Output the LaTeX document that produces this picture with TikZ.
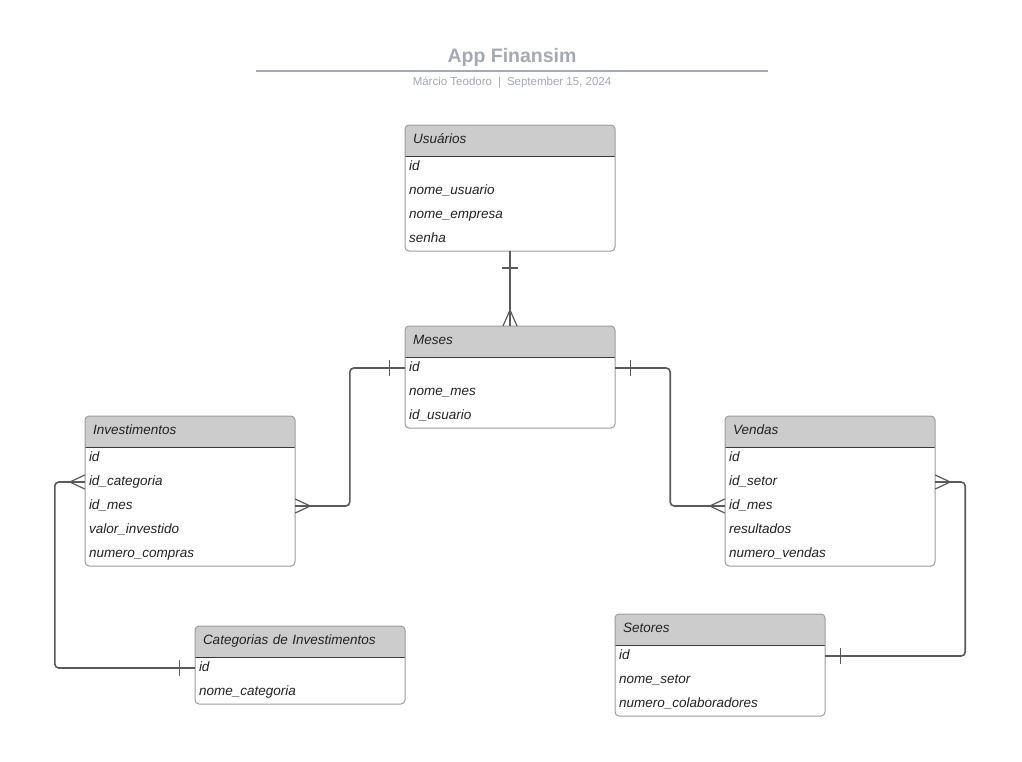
\documentclass[tikz,border=0pt]{standalone}
\usepackage{fontspec}
\setmainfont{Liberation Sans}
\usetikzlibrary{calc}
\definecolor{titlegray}{HTML}{A4A9B4}
\definecolor{linegray}{HTML}{5A5A5A}
\definecolor{bordergray}{HTML}{9C9C9C}
\definecolor{headgray}{HTML}{CCCCCC}
\definecolor{sepgray}{HTML}{3A3A3A}
\definecolor{textdark}{HTML}{222222}
\newcommand\ertab[6]{% name, x, y, title, nrows, rows
  \pgfmathsetmacro\erh{30+24*#5}
  \begin{scope}
    \path[clip, rounded corners=4pt] (#2,#3) rectangle ++(210,\erh);
    \fill[headgray] (#2,#3) rectangle ++(210,31);
  \end{scope}
  \draw[sepgray, line width=0.9pt] (#2,#3+31) -- ++(210,0);
  \draw[bordergray, line width=1pt, rounded corners=4pt] (#2,#3) rectangle ++(210,\erh);
  \node[tabcap] (#1) at (#2+105,#3) {#4\strut};
  \coordinate (#1-s) at (#2+105,#3+\erh);
  \foreach \r [count=\k from 0] in {#6} {
    \node[tabrow] (#1-\k) at (#2+105,#3+42+24*\k) {\r\strut};
  }
}
\begin{document}
\begin{tikzpicture}[x=1pt,y=-1pt,
  tabcap/.style={anchor=north, minimum width=210pt, minimum height=30pt, text width=194pt, inner xsep=8pt, inner ysep=0pt, align=left, text=textdark, font=\itshape\fontsize{13.5}{16}\selectfont},
  tabrow/.style={minimum width=210pt, minimum height=24pt, text width=202pt, inner xsep=4pt, inner ysep=0pt, align=left, text=textdark, font=\itshape\fontsize{13.5}{16}\selectfont},
  conn/.style={draw=linegray, line width=1.6pt, rounded corners=4pt},
  tick/.style={draw=linegray, line width=1.1pt},
  crow/.style={draw=linegray, line width=1.2pt}]
\useasboundingbox (0,0) rectangle (1022,761);
\fill[white] (0,0) rectangle (1022,761);

\node[font=\bfseries\fontsize{19.5}{23}\selectfont, text=titlegray] (title) at (512,57.5) {App Finansim};
\draw[titlegray, line width=2pt] (256,71) -- (768,71);
\node[font=\fontsize{11.5}{13}\selectfont, text=titlegray] (sub) at (512,82.5) {Márcio Teodoro\hspace{6pt}|\hspace{6pt}September 15, 2024};

\ertab{usu}{405}{125}{Usuários}{4}{id,nome\_usuario,nome\_empresa,senha}
\ertab{mes}{405}{326}{Meses}{3}{id,nome\_mes,id\_usuario}
\ertab{inv}{85}{416}{Investimentos}{5}{id,id\_categoria,id\_mes,valor\_investido,numero\_compras}
\ertab{ven}{725}{416}{Vendas}{5}{id,id\_setor,id\_mes,resultados,numero\_vendas}
\ertab{cat}{195}{626}{Categorias de Investimentos}{2}{id,nome\_categoria}
\ertab{set}{615}{614}{Setores}{3}{id,nome\_setor,numero\_colaboradores}

% Usuarios -> Meses
\draw[conn] (usu-s) -- (mes.north);
\draw[tick] ($(usu-s)+(-8,17)$) -- ++(16,0);
\draw[crow] ($(mes.north)+(-7,0)$) -- ($(mes.north)+(0,-16)$) -- ($(mes.north)+(7,0)$);

% Meses -> Vendas
\draw[conn] (mes-0.east) -- ++(55,0) |- (ven-2.west);
\draw[tick] ($(mes-0.east)+(15,-8)$) -- ++(0,16);
\draw[crow] ($(ven-2.west)+(0,-7)$) -- ($(ven-2.west)+(-15,0)$) -- ($(ven-2.west)+(0,7)$);

% Meses -> Investimentos
\draw[conn] (mes-0.west) -- ++(-55,0) |- (inv-2.east);
\draw[tick] ($(mes-0.west)+(-15,-8)$) -- ++(0,16);
\draw[crow] ($(inv-2.east)+(0,-7)$) -- ($(inv-2.east)+(15,0)$) -- ($(inv-2.east)+(0,7)$);

% Categorias -> Investimentos
\draw[conn] (inv-1.west) -- ++(-30,0) |- (cat-0.west);
\draw[tick] ($(cat-0.west)+(-15,-8)$) -- ++(0,16);
\draw[crow] ($(inv-1.west)+(0,-7)$) -- ($(inv-1.west)+(-15,0)$) -- ($(inv-1.west)+(0,7)$);

% Setores -> Vendas
\draw[conn] (ven-1.east) -- ++(30,0) |- (set-0.east);
\draw[tick] ($(set-0.east)+(15,-8)$) -- ++(0,16);
\draw[crow] ($(ven-1.east)+(0,-7)$) -- ($(ven-1.east)+(15,0)$) -- ($(ven-1.east)+(0,7)$);
\end{tikzpicture}
\end{document}
